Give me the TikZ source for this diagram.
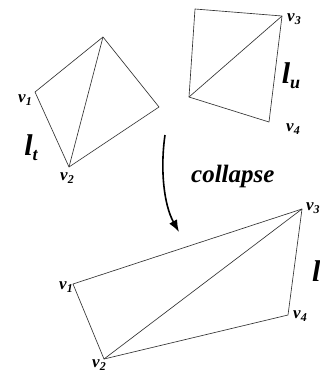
\documentclass[tikz,border=0pt]{standalone}
\usepackage{fontspec}
\setmainfont{Liberation Serif}
\usetikzlibrary{arrows.meta}
\newcommand{\vsub}[2]{#1\raisebox{-0.45ex}{\fontsize{12}{12}\selectfont #2}}
\newcommand{\lsub}[2]{#1\raisebox{-0.35ex}{\fontsize{18}{18}\selectfont #2}}
\begin{document}
\begin{tikzpicture}[x=1pt,y=-1pt,
  edge/.style={draw=black!80,line width=0.65pt,line join=round},
  vlab/.style={font=\fontsize{17}{17}\selectfont\bfseries\itshape,inner sep=0pt},
  llab/.style={font=\fontsize{30}{30}\selectfont\bfseries\itshape,inner sep=0pt},
  clab/.style={font=\fontsize{25}{25}\selectfont\bfseries\itshape,inner sep=0pt}]
\useasboundingbox (0,0) rectangle (320,376);
\clip (0,0) rectangle (320,376);
% left quad
\coordinate (a1) at (35,92);
\coordinate (a2) at (69,167);
\coordinate (at) at (103,37);
\coordinate (ar) at (159,107);
\draw[edge] (a1) -- (at) -- (ar) -- (a2) -- cycle;
\draw[edge] (at) -- (a2);
% right quad
\coordinate (btl) at (195,9);
\coordinate (b3) at (282,16);
\coordinate (b4) at (269,122);
\coordinate (bl) at (189,97);
\draw[edge] (btl) -- (b3) -- (b4) -- (bl) -- cycle;
\draw[edge] (bl) -- (b3);
% bottom quad
\coordinate (c1) at (73,284);
\coordinate (c2) at (104,359);
\coordinate (c3) at (302,209);
\coordinate (c4) at (288,315);
\draw[edge] (c1) -- (c3) -- (c4) -- (c2) -- cycle;
\draw[edge] (c2) -- (c3);
% labels
\node[vlab] (lv1) at (25,100) {\vsub{v}{1}};
\node[llab] (llt) at (31,148) {\lsub{l}{t}};
\node[vlab] (lv2) at (67,178) {\vsub{v}{2}};
\node[vlab] (lv3) at (294,19) {\vsub{v}{3}};
\node[llab] (llu) at (291,76) {\lsub{l}{u}};
\node[vlab] (lv4) at (293,129) {\vsub{v}{4}};
\node[vlab] (mv1) at (66,287) {\vsub{v}{1}};
\node[vlab] (mv2) at (99,365) {\vsub{v}{2}};
\node[vlab] (mv4) at (300,316) {\vsub{v}{4}};
\node[vlab,anchor=west] (mv3) at (306,208) {\vsub{v}{3}};
\node[llab,anchor=west] (mlu) at (312,271) {l};
% arrow
\node[clab,anchor=west] (col) at (191,176) {collapse};
\coordinate (s) at (165,135);
\coordinate (e) at (179,232);
\draw[line width=1.6pt,-{Latex[length=12pt,width=9pt]}] (s) .. controls (160,170) and (164,205) .. (e);
\end{tikzpicture}
\end{document}
